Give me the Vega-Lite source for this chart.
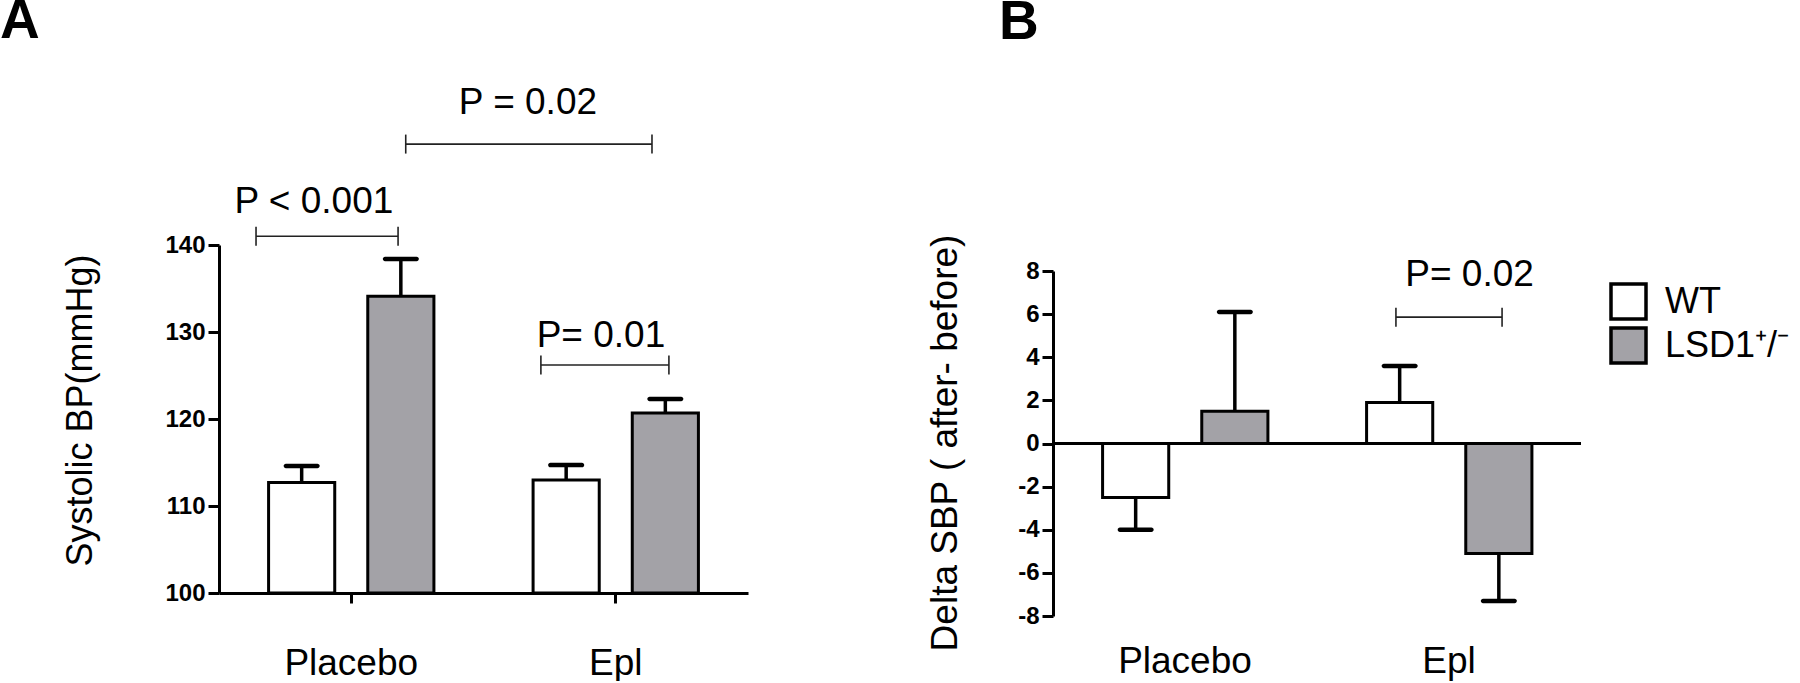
{
  "$schema": "https://vega.github.io/schema/vega-lite/v6.json",
  "padding": {"top": -6, "left": 0, "right": 0, "bottom": 0},
  "background": "white",
  "config": {"font": "Liberation Sans", "view": {"stroke": null}, "axis": {"grid": false}},
  "datasets": {
    "bpA": [
      {"treatment": "Placebo", "genotype": "WT", "mean": 112.7, "errEnd": 114.6},
      {"treatment": "Placebo", "genotype": "LSD1⁺/⁻", "mean": 134.1, "errEnd": 138.4},
      {"treatment": "Epl", "genotype": "WT", "mean": 113.0, "errEnd": 114.7},
      {"treatment": "Epl", "genotype": "LSD1⁺/⁻", "mean": 120.7, "errEnd": 122.3}
    ],
    "bpB": [
      {"treatment": "Placebo", "genotype": "WT", "mean": -2.5, "errEnd": -4.0},
      {"treatment": "Placebo", "genotype": "LSD1⁺/⁻", "mean": 1.5, "errEnd": 6.1},
      {"treatment": "Epl", "genotype": "WT", "mean": 1.9, "errEnd": 3.6},
      {"treatment": "Epl", "genotype": "LSD1⁺/⁻", "mean": -5.1, "errEnd": -7.3}
    ],
    "sigA": [
      {"label": "P < 0.001", "x1": 0.140, "x2": 0.677, "y": 141.0, "tx": 0.359, "ty": 143.7},
      {"label": "P = 0.02", "x1": 0.706, "x2": 1.637, "y": 151.6, "tx": 1.168, "ty": 155.1},
      {"label": "P= 0.01", "x1": 1.217, "x2": 1.701, "y": 126.2, "tx": 1.444, "ty": 128.3}
    ],
    "sigB": [
      {"label": "P= 0.02", "x1": 1.299, "x2": 1.701, "y": 5.86, "tx": 1.578, "ty": 7.31}
    ]
  },
  "spacing": 178,
  "resolve": {"scale": {"fill": "independent"}, "legend": {"fill": "independent"}},
  "hconcat": [
    {
      "width": 529,
      "height": 348,
      "title": {"text": "A", "anchor": "start", "frame": "group", "fontSize": 55, "fontWeight": "bold", "color": "black", "offset": 0, "dx": -219, "dy": -33.5},
      "resolve": {"scale": {"x": "independent"}},
      "layer": [
        {
          "data": {"name": "bpA"},
          "layer": [
            {
              "mark": {"type": "bar", "stroke": "black", "strokeWidth": 3},
              "encoding": {
                "x": {"field": "treatment", "type": "nominal", "sort": ["Placebo", "Epl"], "title": null,
                  "scale": {"paddingInner": 0, "paddingOuter": 0},
                  "axis": {"labelFontSize": 37, "labelColor": "black", "labelAngle": 0, "labelBaseline": "alphabetic", "labelPadding": 71, "tickSize": 10, "tickWidth": 3, "tickColor": "black", "domainColor": "black", "domainWidth": 3, "bandPosition": 0.5}},
                "xOffset": {"field": "genotype", "type": "nominal", "sort": ["WT", "LSD1⁺/⁻"], "scale": {"paddingInner": 0.333, "paddingOuter": 0.5}},
                "y": {"field": "mean", "type": "quantitative", "title": "Systolic BP(mmHg)",
                  "scale": {"domain": [100, 140], "nice": false, "zero": false},
                  "axis": {"values": [100, 110, 120, 130, 140], "titleFontSize": 36, "titleFontWeight": "normal", "titleColor": "black", "titleX": -128, "titleY": 165, "titleAngle": -90, "titleAlign": "center", "titleBaseline": "alphabetic", "labelFontSize": 24, "labelFontWeight": "bold", "labelColor": "black", "labelPadding": 3, "tickSize": 11, "tickWidth": 3, "tickColor": "black", "domainColor": "black", "domainWidth": 3}},
                "y2": {"datum": 100},
                "fill": {"field": "genotype", "type": "nominal", "scale": {"domain": ["WT", "LSD1⁺/⁻"], "range": ["#ffffff", "#a3a2a7"]}, "legend": null}
              }
            },
            {
              "mark": {"type": "rule", "stroke": "black", "strokeWidth": 3.5},
              "encoding": {
                "x": {"field": "treatment", "type": "nominal", "sort": ["Placebo", "Epl"], "title": null},
                "xOffset": {"field": "genotype", "type": "nominal", "sort": ["WT", "LSD1⁺/⁻"]},
                "y": {"field": "mean", "type": "quantitative", "title": "Systolic BP(mmHg)", "scale": {"domain": [100, 140], "nice": false, "zero": false}},
                "y2": {"field": "errEnd"}
              }
            },
            {
              "mark": {"type": "tick", "orient": "horizontal", "size": 36, "thickness": 4.5, "color": "black", "opacity": 1, "cornerRadius": 2.2},
              "encoding": {
                "x": {"field": "treatment", "type": "nominal", "sort": ["Placebo", "Epl"], "title": null},
                "xOffset": {"field": "genotype", "type": "nominal", "sort": ["WT", "LSD1⁺/⁻"]},
                "y": {"field": "errEnd", "type": "quantitative", "title": "Systolic BP(mmHg)", "scale": {"domain": [100, 140], "nice": false, "zero": false}}
              }
            }
          ]
        },
        {
          "data": {"name": "sigA"},
          "layer": [
            {
              "mark": {"type": "rule", "stroke": "#222222", "strokeWidth": 1.6},
              "encoding": {
                "x": {"field": "x1", "type": "quantitative", "scale": {"domain": [0, 2], "nice": false, "zero": false}, "axis": null},
                "x2": {"field": "x2"},
                "y": {"field": "y", "type": "quantitative", "title": "Systolic BP(mmHg)", "scale": {"domain": [100, 140], "nice": false, "zero": false}}
              }
            },
            {
              "mark": {"type": "tick", "orient": "vertical", "size": 19, "thickness": 1.6, "color": "#222222", "opacity": 1},
              "encoding": {
                "x": {"field": "x1", "type": "quantitative", "axis": null},
                "y": {"field": "y", "type": "quantitative", "title": "Systolic BP(mmHg)", "scale": {"domain": [100, 140], "nice": false, "zero": false}}
              }
            },
            {
              "mark": {"type": "tick", "orient": "vertical", "size": 19, "thickness": 1.6, "color": "#222222", "opacity": 1},
              "encoding": {
                "x": {"field": "x2", "type": "quantitative", "axis": null},
                "y": {"field": "y", "type": "quantitative", "title": "Systolic BP(mmHg)", "scale": {"domain": [100, 140], "nice": false, "zero": false}}
              }
            },
            {
              "mark": {"type": "text", "fontSize": 37, "align": "center", "baseline": "alphabetic", "color": "black"},
              "encoding": {
                "x": {"field": "tx", "type": "quantitative", "axis": null},
                "y": {"field": "ty", "type": "quantitative", "title": "Systolic BP(mmHg)", "scale": {"domain": [100, 140], "nice": false, "zero": false}},
                "text": {"field": "label"}
              }
            }
          ]
        }
      ]
    },
    {
      "width": 528,
      "height": 371,
      "title": {"text": "B", "anchor": "start", "frame": "group", "fontSize": 55, "fontWeight": "bold", "color": "black", "offset": 0, "dx": -54, "dy": -183},
      "resolve": {"scale": {"x": "independent"}},
      "layer": [
        {
          "data": {"name": "bpB"},
          "layer": [
            {
              "mark": {"type": "bar", "stroke": "black", "strokeWidth": 3},
              "encoding": {
                "x": {"field": "treatment", "type": "nominal", "sort": ["Placebo", "Epl"], "title": null,
                  "scale": {"paddingInner": 0, "paddingOuter": 0},
                  "axis": {"labelFontSize": 37, "labelColor": "black", "labelAngle": 0, "labelBaseline": "alphabetic", "labelPadding": 56, "ticks": false, "tickSize": 0, "domain": false}},
                "xOffset": {"field": "genotype", "type": "nominal", "sort": ["WT", "LSD1⁺/⁻"], "scale": {"paddingInner": 0.333, "paddingOuter": 0.5}},
                "y": {"field": "mean", "type": "quantitative", "title": "Delta SBP ( after- before)",
                  "scale": {"domain": [-8, 8], "nice": false, "zero": false, "range": [371, 26]},
                  "axis": {"values": [-8, -6, -4, -2, 0, 2, 4, 6, 8], "labelExpr": "datum.value + ''", "titleFontSize": 37, "titleFontWeight": "normal", "titleColor": "black", "titleX": -96.5, "titleY": 197.5, "titleAngle": -90, "titleAlign": "center", "titleBaseline": "alphabetic", "labelFontSize": 24, "labelFontWeight": "bold", "labelColor": "black", "labelPadding": 3, "tickSize": 11, "tickWidth": 3, "tickColor": "black", "domainColor": "black", "domainWidth": 3}},
                "y2": {"datum": 0},
                "fill": {"field": "genotype", "type": "nominal", "scale": {"domain": ["WT", "LSD1⁺/⁻"], "range": ["#ffffff", "#a3a2a7"]},
                  "legend": {"orient": "none", "legendX": 556, "legendY": 37, "title": null, "symbolType": "square", "symbolSize": 1225, "symbolStrokeWidth": 3.5, "symbolStrokeColor": "black", "symbolOpacity": 1, "labelFontSize": 36, "labelOffset": 17, "labelColor": "black", "rowPadding": -6, "padding": 0}}
              }
            },
            {
              "mark": {"type": "rule", "stroke": "black", "strokeWidth": 3},
              "encoding": {
                "y": {"datum": 0, "type": "quantitative", "title": "Delta SBP ( after- before)", "scale": {"domain": [-8, 8], "nice": false, "zero": false, "range": [371, 26]}}
              }
            },
            {
              "mark": {"type": "rule", "stroke": "black", "strokeWidth": 3.5},
              "encoding": {
                "x": {"field": "treatment", "type": "nominal", "sort": ["Placebo", "Epl"], "title": null},
                "xOffset": {"field": "genotype", "type": "nominal", "sort": ["WT", "LSD1⁺/⁻"]},
                "y": {"field": "mean", "type": "quantitative", "title": "Delta SBP ( after- before)", "scale": {"domain": [-8, 8], "nice": false, "zero": false, "range": [371, 26]}},
                "y2": {"field": "errEnd"}
              }
            },
            {
              "mark": {"type": "tick", "orient": "horizontal", "size": 36, "thickness": 4.5, "color": "black", "opacity": 1, "cornerRadius": 2.2},
              "encoding": {
                "x": {"field": "treatment", "type": "nominal", "sort": ["Placebo", "Epl"], "title": null},
                "xOffset": {"field": "genotype", "type": "nominal", "sort": ["WT", "LSD1⁺/⁻"]},
                "y": {"field": "errEnd", "type": "quantitative", "title": "Delta SBP ( after- before)", "scale": {"domain": [-8, 8], "nice": false, "zero": false, "range": [371, 26]}}
              }
            }
          ]
        },
        {
          "data": {"name": "sigB"},
          "layer": [
            {
              "mark": {"type": "rule", "stroke": "#222222", "strokeWidth": 1.6},
              "encoding": {
                "x": {"field": "x1", "type": "quantitative", "scale": {"domain": [0, 2], "nice": false, "zero": false}, "axis": null},
                "x2": {"field": "x2"},
                "y": {"field": "y", "type": "quantitative", "title": "Delta SBP ( after- before)", "scale": {"domain": [-8, 8], "nice": false, "zero": false, "range": [371, 26]}}
              }
            },
            {
              "mark": {"type": "tick", "orient": "vertical", "size": 19, "thickness": 1.6, "color": "#222222", "opacity": 1},
              "encoding": {
                "x": {"field": "x1", "type": "quantitative", "axis": null},
                "y": {"field": "y", "type": "quantitative", "title": "Delta SBP ( after- before)", "scale": {"domain": [-8, 8], "nice": false, "zero": false, "range": [371, 26]}}
              }
            },
            {
              "mark": {"type": "tick", "orient": "vertical", "size": 19, "thickness": 1.6, "color": "#222222", "opacity": 1},
              "encoding": {
                "x": {"field": "x2", "type": "quantitative", "axis": null},
                "y": {"field": "y", "type": "quantitative", "title": "Delta SBP ( after- before)", "scale": {"domain": [-8, 8], "nice": false, "zero": false, "range": [371, 26]}}
              }
            },
            {
              "mark": {"type": "text", "fontSize": 37, "align": "center", "baseline": "alphabetic", "color": "black"},
              "encoding": {
                "x": {"field": "tx", "type": "quantitative", "axis": null},
                "y": {"field": "ty", "type": "quantitative", "title": "Delta SBP ( after- before)", "scale": {"domain": [-8, 8], "nice": false, "zero": false, "range": [371, 26]}},
                "text": {"field": "label"}
              }
            }
          ]
        }
      ]
    }
  ]
}
